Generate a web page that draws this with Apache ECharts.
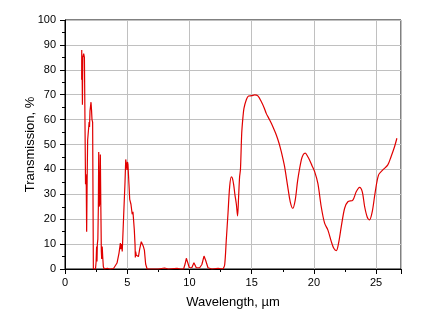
<!DOCTYPE html>
<html>
<head>
<meta charset="UTF-8">
<title></title>
<script src="https://cdn.jsdelivr.net/npm/echarts@6/dist/echarts.min.js"></script>
</head>
<body style="margin:0;background:#fff;">
<div id="chart" style="width:429px;height:322px;"></div>
<script type="text/javascript">
// [wavelength um, transmission %]
var nearIR = [
	[1.34, 76], [1.345, 88], [1.35, 76], [1.38, 77], [1.40, 66], [1.43, 85], [1.50, 86.5],
	[1.56, 85], [1.62, 85], [1.65, 34], [1.68, 38], [1.71, 33], [1.74, 15], [1.78, 36],
	[1.82, 51.8], [1.88, 52], [1.94, 59], [1.97, 57], [2.01, 63.5], [2.05, 64], [2.09, 67],
	[2.13, 64], [2.17, 60], [2.22, 59], [2.28, 0], [2.35, 0.4], [2.45, 0], [2.50, 3],
	[2.54, 9], [2.57, 3], [2.60, 10], [2.64, 12], [2.68, 25], [2.71, 47], [2.74, 25],
	[2.78, 26], [2.84, 46], [2.88, 25], [2.92, 7], [2.95, 4], [2.99, 9], [3.03, 5],
	[3.08, 1], [3.15, 0], [3.4, 0.3], [3.6, 0], [3.9, 0.2]
];
var midIR = [
	[4.00, 0], [4.18, 2.4], [4.30, 3], [4.34, 6.4], [4.45, 10.4], [4.50, 8], [4.55, 10],
	[4.60, 7], [4.71, 21], [4.82, 34.5], [4.88, 44], [4.93, 44.5], [4.98, 39.8], [5.02, 43],
	[5.06, 42], [5.14, 34], [5.20, 28], [5.25, 27.7], [5.30, 26], [5.36, 26], [5.40, 22],
	[5.46, 23], [5.57, 15.7], [5.63, 9.6], [5.65, 4.6], [5.68, 7], [5.73, 5.5], [5.82, 6],
	[5.90, 5], [6.00, 8], [6.13, 11], [6.22, 10.5], [6.30, 9], [6.38, 7.6], [6.48, 2],
	[6.60, 0], [7.5, 0], [8.0, 0.4], [8.3, 0], [9.0, 0.3], [9.3, 0]
];
var bandTen = [
	[9.53, 0], [9.65, 2], [9.75, 4.3], [9.88, 2.3], [9.99, 0.5], [10.2, 0.6], [10.36, 2.5],
	[10.55, 0.5], [10.82, 0.5], [11.0, 1.8], [11.17, 5.2], [11.3, 3.5], [11.49, 0.5],
	[11.8, 0], [12.3, 0.3], [12.7, 0]
];
var farIR = [
	[12.7, 0], [12.83, 1.6], [12.96, 11.6], [13.1, 22.5], [13.23, 33], [13.36, 37],
	[13.45, 36.5], [13.55, 34], [13.65, 30], [13.77, 26], [13.87, 21.3], [13.95, 29],
	[14.03, 37], [14.1, 40], [14.2, 54.5], [14.3, 61], [14.38, 64.5], [14.57, 68],
	[14.75, 69.5], [15.0, 69.6], [15.24, 69.9], [15.5, 69.5], [15.78, 67.2], [16.0, 64.8],
	[16.17, 62.5], [16.4, 60.3], [16.58, 58.5], [16.8, 56], [16.98, 53.8], [17.2, 50.5],
	[17.38, 47.1], [17.5, 44.5], [17.65, 41], [17.9, 33], [18.1, 27], [18.3, 24.4],
	[18.5, 27.7], [18.7, 35.7], [18.99, 43.8], [19.15, 46], [19.31, 46.5], [19.5, 45.2],
	[19.65, 43.8], [19.85, 41.5], [20.06, 39.1], [20.32, 34.4], [20.59, 25], [20.86, 18.4],
	[21.12, 15.7], [21.4, 11], [21.6, 8.3], [21.8, 7.4], [21.98, 10.3], [22.2, 17],
	[22.47, 24.4], [22.73, 27], [23.13, 27.7], [23.4, 31], [23.67, 32.8], [23.89, 31],
	[24.08, 25], [24.29, 20.8], [24.47, 19.7], [24.69, 23], [24.93, 31], [25.2, 37.8],
	[25.54, 39.8], [25.94, 41.8], [26.2, 45.1], [26.48, 49.1], [26.67, 52.5]
];

var font = 'Liberation Sans, Arial, sans-serif';
var chart = echarts.init(document.getElementById('chart'));
var lineColor = '#e00000';

chart.setOption({
	animation: false,
	grid: { left: 65, top: 20, right: 28, bottom: 53, show: true, borderColor: '#000', borderWidth: 1 },
	xAxis: {
		type: 'value', min: 0, max: 27, interval: 5,
		name: 'Wavelength, \u00b5m', nameLocation: 'middle', nameGap: 27, nameMoveOverlap: false,
		nameTextStyle: { color: '#000', fontFamily: font, fontSize: 13 },
		axisLine: { lineStyle: { color: '#000', width: 1 } },
		axisTick: { show: true, inside: false, length: 5, lineStyle: { color: '#000' } },
		minorTick: { show: true, splitNumber: 2, length: 3, lineStyle: { color: '#000' } },
		axisLabel: { color: '#000', fontFamily: font, fontSize: 11, margin: 8, showMaxLabel: false },
		splitLine: { show: true, lineStyle: { color: '#c0c0c0', width: 1 } }
	},
	yAxis: {
		type: 'value', min: 0, max: 100, interval: 10,
		name: 'Transmission, %', nameLocation: 'middle', nameGap: 28, nameMoveOverlap: false,
		nameTextStyle: { color: '#000', fontFamily: font, fontSize: 13 },
		axisLine: { show: true, lineStyle: { color: '#000', width: 1 } },
		axisTick: { show: true, inside: false, length: 5, lineStyle: { color: '#000' } },
		minorTick: { show: true, splitNumber: 2, length: 3, lineStyle: { color: '#000' } },
		axisLabel: { color: '#000', fontFamily: font, fontSize: 11, margin: 9 },
		splitLine: { show: true, lineStyle: { color: '#c0c0c0', width: 1 } }
	},
	series: [
		{
			type: 'line', showSymbol: false, symbol: 'none',
			lineStyle: { color: lineColor, width: 1.2 },
			data: nearIR.concat(midIR, bandTen)
		},
		{
			type: 'line', showSymbol: false, symbol: 'none', smooth: 0.3,
			lineStyle: { color: lineColor, width: 1.2 },
			data: farIR
		}
	]
});
</script>
</body>
</html>
